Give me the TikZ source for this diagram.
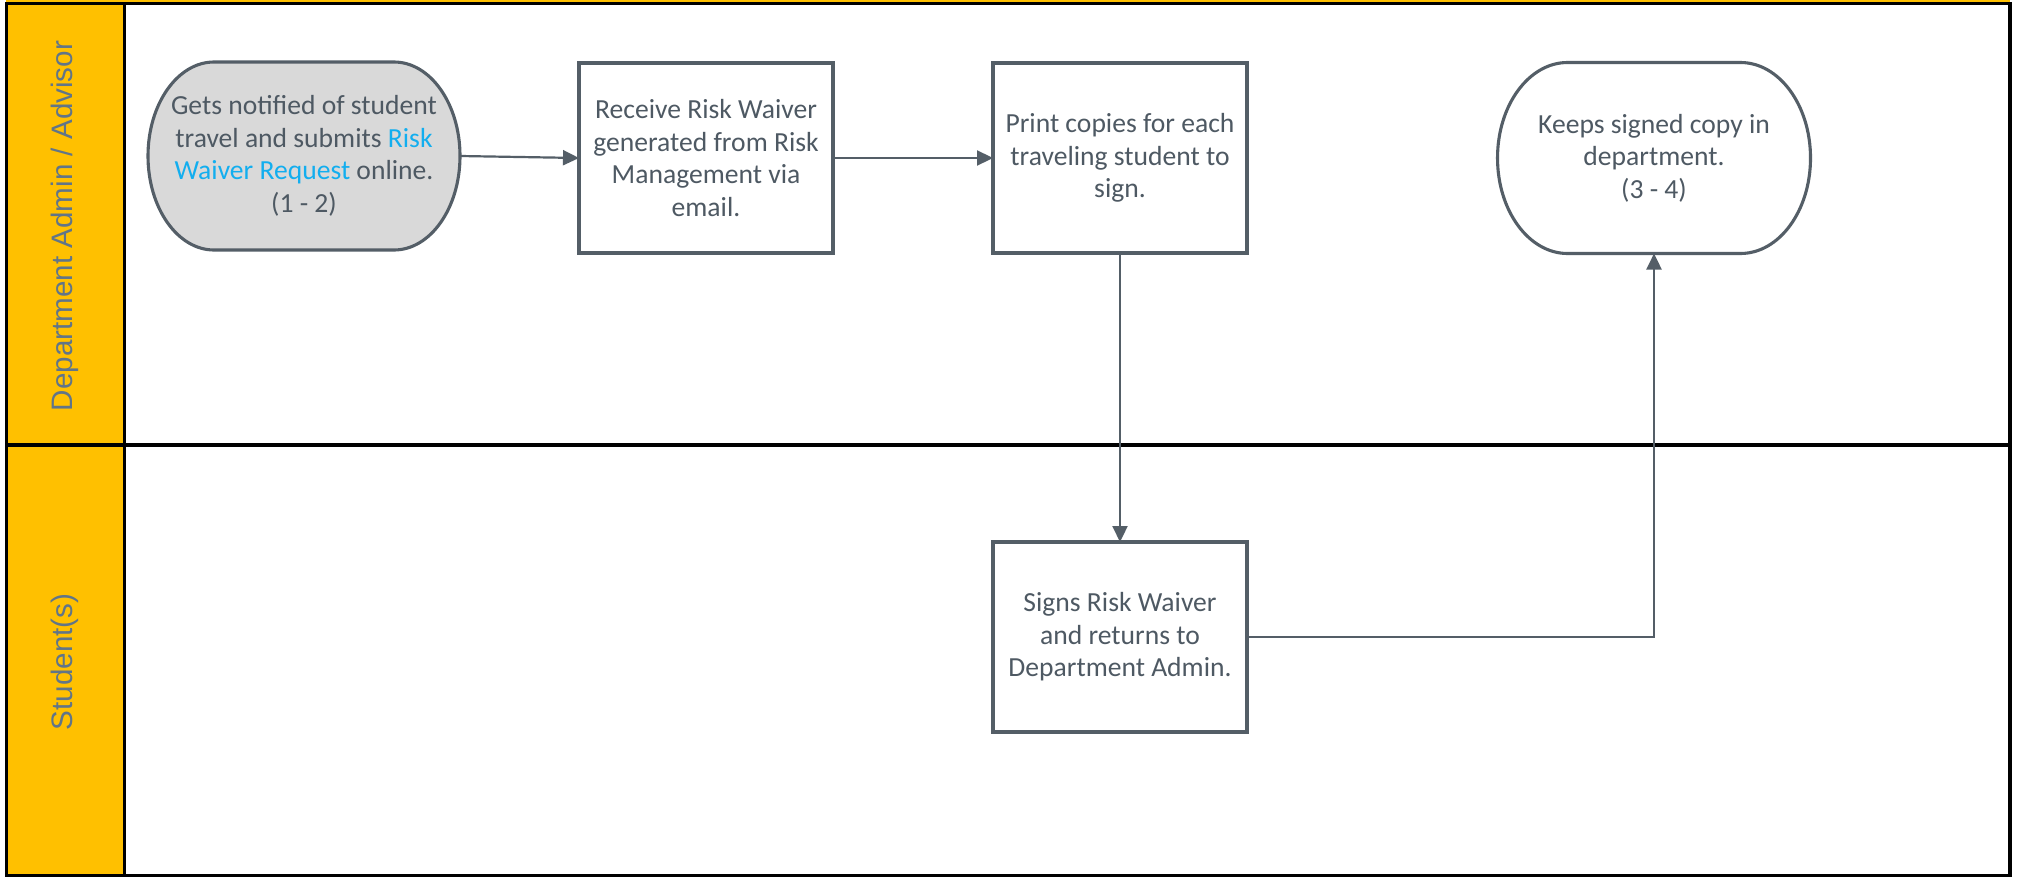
\documentclass[tikz,border=0pt]{standalone}
\usepackage{fontspec}
\setmainfont{Carlito}
\newfontfamily\lanefont{Liberation Sans}
\usetikzlibrary{arrows.meta,calc,backgrounds}
\definecolor{laneyellow}{HTML}{FFC000}
\definecolor{nodeline}{HTML}{545E67}
\definecolor{txtgray}{HTML}{4E5963}
\definecolor{linkblue}{HTML}{12AEEF}
\definecolor{lanetxt}{HTML}{617588}
\definecolor{termfill}{HTML}{D9D9D9}
\begin{document}
\begin{tikzpicture}[x=0.5pt,y=-0.5pt,
  every node/.style={outer sep=0pt, inner sep=0pt},
  boxtext/.style={align=center, text=txtgray, font=\fontsize{13.8}{16.3}\selectfont},
  box/.style={boxtext, draw=nodeline, line width=1.55pt, fill=white, minimum width=127pt, minimum height=95pt},
  term/.style={boxtext, minimum width=156pt, minimum height=94pt},
  termline/.style={draw=nodeline, line width=1.55pt},
  flow/.style={draw=nodeline, line width=1.1pt, -{Triangle[length=8pt,width=7.5pt]}},
  frameline/.style={draw=black, line width=1.6pt},
  lanelabel/.style={rotate=90, font=\lanefont\fontsize{14.8}{17}\selectfont, text=lanetxt}
]
\useasboundingbox (0,0) rectangle (2021,878);

% lane headers
\fill[laneyellow] (6,0) rectangle (2010,2.5);
\fill[laneyellow] (6,3) rectangle (125,876);
\draw[frameline] (6.5,3.5) rectangle (2010,875.5);
\draw[frameline] (124.5,3.5) -- (124.5,875.5);
\draw[frameline] (6.5,445) -- (2010,445);

\node[lanelabel] (l1) at (65,226) {Department Admin / Advisor};
\node[lanelabel] (l2) at (65,662) {Student(s)};

% steps
\node[term] (s1) at (304,156) {Gets notified of student\\travel and submits \textcolor{linkblue}{Risk}\\\textcolor{linkblue}{Waiver Request} online.\\(1 - 2)};
\node[box] (s2) at (706,158) {Receive Risk Waiver\\generated from Risk\\Management via\\email.};
\node[box] (s3) at (1120,158) {Print copies for each\\traveling student to\\sign.};
\node[term, minimum width=156.5pt, minimum height=95.5pt] (s4) at (1654,158) {Keeps signed copy in\\department.\\(3 - 4)};
\node[box] (s5) at (1120,637) {Signs Risk Waiver\\and returns to\\Department Admin.};

% connectors
\draw[flow] (s1.east) -- (s2.west);
\draw[flow] (s2.east) -- (s3.west);
\draw[flow] (s3.south) -- (s5.north);
\draw[flow] (s5.east) -| (s4.south);

% terminal outlines
\begin{scope}[on background layer]
\fill[white] (6,3) rectangle (2010,876);
\draw[termline, fill=termfill] ($(s1.north west)+(66,0)$) -- ($(s1.north east)-(66,0)$)
  arc[start angle=90, end angle=-90, x radius=33pt, y radius=47pt]
  -- ($(s1.south west)+(66,0)$)
  arc[start angle=270, end angle=90, x radius=33pt, y radius=47pt] -- cycle;
\draw[termline, fill=white] ($(s4.north west)+(70,0)$) -- ($(s4.north east)-(70,0)$)
  arc[start angle=90, end angle=-90, x radius=35pt, y radius=47.75pt]
  -- ($(s4.south west)+(70,0)$)
  arc[start angle=270, end angle=90, x radius=35pt, y radius=47.75pt] -- cycle;
\end{scope}
\end{tikzpicture}
\end{document}
